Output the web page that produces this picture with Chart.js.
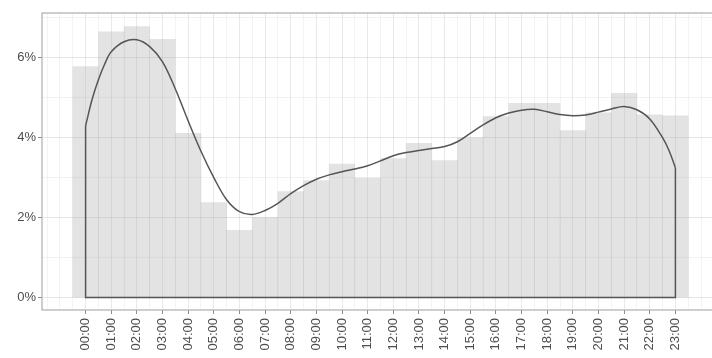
<!DOCTYPE html>
<html>
<head>
<meta charset="utf-8">
<script src="https://cdn.jsdelivr.net/npm/chart.js@4/dist/chart.umd.min.js"></script>
<style>
  html, body { margin: 0; padding: 0; overflow: hidden; background: #ffffff; }
  #wrap { width: 719px; height: 358px; }
</style>
</head>
<body>
<div id="wrap"><canvas id="c" width="719" height="358"></canvas></div>
<script>
// Hour-of-day labels and bin centres
const hourLabels = ['00:00','01:00','02:00','03:00','04:00','05:00','06:00','07:00',
  '08:00','09:00','10:00','11:00','12:00','13:00','14:00','15:00',
  '16:00','17:00','18:00','19:00','20:00','21:00','22:00','23:00'];
const hourPositions = [0,1,2,3,4,5,6,7,8,9,10,11,12,13,14,15,16,17,18,19,20,21,22,23];

// Share of events per hour (%)
const shareByHour = [5.78,6.65,6.78,6.46,4.11,2.38,1.68,2.00,2.65,2.93,3.34,2.99,
  3.48,3.86,3.43,4.00,4.53,4.86,4.86,4.18,4.62,5.11,4.57,4.55];

// Smoothed density curve (%), sampled along the hour axis
const curveHours = [0,0.25,0.5,0.75,1,1.5,2,2.5,3,3.5,4,4.5,5,5.5,6,6.5,7,7.5,8,8.5,9,9.5,10,
  10.5,11,11.5,12,12.5,13,13.5,14,14.5,15,15.5,16,16.5,17,17.5,18,18.5,19,19.5,20,
  20.5,21,21.5,22,22.5,22.75,23];
const curveShare = [4.30,4.95,5.45,5.85,6.15,6.40,6.45,6.28,5.90,5.22,4.42,3.66,3.00,2.45,
  2.15,2.08,2.18,2.36,2.60,2.80,2.96,3.07,3.15,3.22,3.30,3.42,3.55,3.63,3.68,3.73,3.78,
  3.90,4.11,4.32,4.50,4.62,4.69,4.71,4.65,4.58,4.55,4.57,4.64,4.72,4.78,4.70,4.47,4.00,
  3.68,3.25];

// Axis tick positions
const xGridValues = [-1.5,-1,-0.5,0,0.5,1,1.5,2,2.5,3,3.5,4,4.5,5,5.5,6,6.5,7,7.5,8,8.5,9,9.5,
  10,10.5,11,11.5,12,12.5,13,13.5,14,14.5,15,15.5,16,16.5,17,17.5,18,18.5,19,19.5,20,20.5,
  21,21.5,22,22.5,23,23.5,24,24.5];
const yTickValues = [0,1,2,3,4,5,6,7];
const yLabelledTicks = [0,2,4,6];

const barPoints = hourPositions.map((h, i) => ({ x: h, y: shareByHour[i] }));
const curvePoints = curveHours.map((h, i) => ({ x: h, y: curveShare[i] }));
const first = curveHours[0], last = curveHours[curveHours.length - 1];
const edgePoints = [
  { x: first, y: curveShare[0] }, { x: first, y: 0 },
  { x: last, y: 0 }, { x: last, y: curveShare[curveShare.length - 1] }
];

const xMin = -1.7, xMax = 24.7;
const isMajorHour = v => Number.isInteger(v) && v >= 0 && v <= 23;
const textFont = { family: 'Liberation Sans', size: 13 };
const textColor = '#4d4d4d';

// Outline around the plotting panel
const panelFrame = {
  id: 'panelFrame',
  afterDatasetsDraw(chart) {
    const a = chart.chartArea, ctx = chart.ctx;
    ctx.save();
    ctx.strokeStyle = '#adadad';
    ctx.lineWidth = 1.2;
    ctx.strokeRect(a.left, a.top, a.right - a.left, a.bottom - a.top);
    ctx.restore();
  }
};

new Chart(document.getElementById('c'), {
  type: 'bar',
  data: {
    datasets: [
      {
        type: 'line',
        data: curvePoints,
        borderColor: '#555555',
        borderWidth: 1.5,
        pointRadius: 0,
        fill: false,
        tension: 0.35,
        order: 1
      },
      {
        type: 'line',
        data: edgePoints,
        borderColor: '#555555',
        borderWidth: 1.5,
        pointRadius: 0,
        fill: false,
        tension: 0,
        order: 1
      },
      {
        type: 'bar',
        xAxisID: 'xBins',
        data: barPoints,
        backgroundColor: 'rgba(170,170,170,0.33)',
        borderWidth: 0,
        barPercentage: 1,
        categoryPercentage: 1,
        order: 2
      }
    ]
  },
  options: {
    responsive: false,
    animation: false,
    devicePixelRatio: 1,
    layout: { padding: { top: 13, left: 0, right: 0, bottom: 0 } },
    plugins: { legend: { display: false }, tooltip: { enabled: false } },
    scales: {
      // hidden axis for the hourly bins, one tick per bin
      xBins: {
        type: 'linear',
        display: false,
        min: xMin,
        max: xMax,
        offset: false,
        grid: { offset: false },
        afterBuildTicks: s => { s.ticks = hourPositions.map(v => ({ value: v })); }
      },
      x: {
        type: 'linear',
        min: xMin,
        max: xMax,
        offset: false,
        afterBuildTicks: s => { s.ticks = xGridValues.map(v => ({ value: v })); },
        afterFit: s => { s.height = 48; s.paddingLeft = 0; s.paddingRight = 0; },
        border: { display: false },
        grid: {
          offset: false,
          color: c => isMajorHour(c.tick.value) ? 'rgba(0,0,0,0.085)' : 'rgba(0,0,0,0.045)',
          lineWidth: 1,
          tickColor: c => isMajorHour(c.tick.value) ? '#8c8c8c' : 'rgba(0,0,0,0)',
          tickLength: 4
        },
        ticks: {
          autoSkip: false,
          minRotation: 90,
          maxRotation: 90,
          padding: 4,
          color: textColor,
          font: textFont,
          callback: v => isMajorHour(v) ? hourLabels[v] : ''
        }
      },
      y: {
        min: -0.31,
        max: 7.12,
        afterBuildTicks: s => { s.ticks = yTickValues.map(v => ({ value: v })); },
        afterFit: s => { s.width = 42; s.paddingTop = 0; s.paddingBottom = 0; },
        border: { display: false },
        grid: {
          color: c => yLabelledTicks.includes(c.tick.value) ? 'rgba(0,0,0,0.10)' : 'rgba(0,0,0,0.05)',
          lineWidth: 1,
          tickColor: c => yLabelledTicks.includes(c.tick.value) ? '#8c8c8c' : 'rgba(0,0,0,0)',
          tickLength: 4
        },
        ticks: {
          padding: 2,
          color: textColor,
          font: textFont,
          callback: v => yLabelledTicks.includes(v) ? v + '%' : ''
        }
      }
    }
  },
  plugins: [panelFrame]
});
</script>
</body>
</html>
